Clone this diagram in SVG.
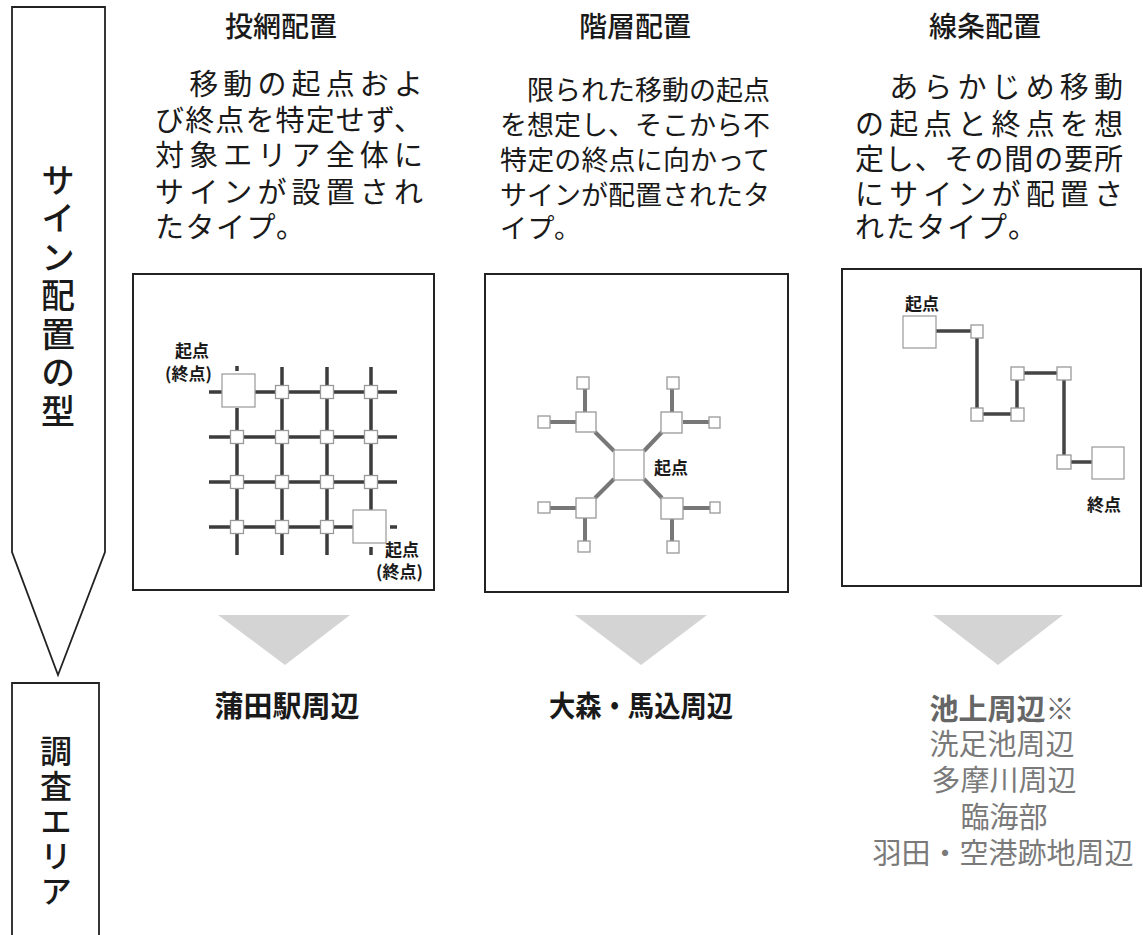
<svg xmlns="http://www.w3.org/2000/svg" width="1143" height="935" viewBox="0 0 1143 935">
<style>
text{font-family:"Noto Sans CJK JP","Noto Sans CJK SC",sans-serif;fill:#1a1a1a}
.hd{font-size:28px;font-weight:500;text-anchor:middle}
.bd{font-size:29px}
.bd2{font-size:27px}
.side{font-weight:500;writing-mode:vertical-rl}
.lbl{font-size:17px;font-weight:700}
.area{font-size:29px;font-weight:700;text-anchor:middle}
.area3{font-size:29px;text-anchor:middle;fill:#7a7a7a}
.panel{fill:#fff;stroke:#222;stroke-width:2}
.tri{fill:#d4d4d4}
.g1{stroke:#3c3c3c;stroke-width:3.5;fill:none}
.g2{stroke:#777;stroke-width:4;fill:none}
.g3{stroke:#444;stroke-width:3.5;fill:none}
.sq{fill:#fff;stroke:#999;stroke-width:1.3}
.big{fill:#fff;stroke:#a0a0a0;stroke-width:1.3}
</style>

<g id="side-arrow">
<path d="M12,7 L105,7 L105,552 L58,675 L12,552 Z" fill="#fff" stroke="#222" stroke-width="1.8"/>
<text class="side" x="58" y="163" style="font-size:34px;letter-spacing:4.5px">サイン配置の型</text>
</g>

<g id="side-area">
<path d="M12,940 L12,683 L99,683 L99,940" fill="#fff" stroke="#222" stroke-width="1.8"/>
<text class="side" x="56" y="735" style="font-size:32px;letter-spacing:3px">調査エリア</text>
</g>

<g id="col1">
<text class="hd" x="281" y="37">投網配置</text>
<text class="bd" x="155" y="95" textLength="268" lengthAdjust="spacing">　移動の起点およ</text>
<text class="bd" x="155" y="131" textLength="268" lengthAdjust="spacing">び終点を特定せず、</text>
<text class="bd" x="155" y="166" textLength="268" lengthAdjust="spacing">対象エリア全体に</text>
<text class="bd" x="155" y="203" textLength="268" lengthAdjust="spacing">サインが設置され</text>
<text class="bd" x="155" y="238" textLength="150" lengthAdjust="spacing">たタイプ。</text>
</g>

<g id="col2">
<text class="hd" x="635" y="37">階層配置</text>
<text class="bd2" x="500" y="100" textLength="270" lengthAdjust="spacing">　限られた移動の起点</text>
<text class="bd2" x="500" y="135" textLength="270" lengthAdjust="spacing">を想定し、そこから不</text>
<text class="bd2" x="500" y="170" textLength="270" lengthAdjust="spacing">特定の終点に向かって</text>
<text class="bd2" x="500" y="205" textLength="270" lengthAdjust="spacing">サインが配置されたタ</text>
<text class="bd2" x="500" y="238" textLength="81" lengthAdjust="spacing">イプ。</text>
</g>

<g id="col3">
<text class="hd" x="985" y="37">線条配置</text>
<text class="bd" x="855" y="98" textLength="268" lengthAdjust="spacing">　あらかじめ移動</text>
<text class="bd" x="855" y="135" textLength="268" lengthAdjust="spacing">の起点と終点を想</text>
<text class="bd" x="855" y="170" textLength="268" lengthAdjust="spacing">定し、その間の要所</text>
<text class="bd" x="855" y="205" textLength="268" lengthAdjust="spacing">にサインが配置さ</text>
<text class="bd" x="855" y="238" textLength="182" lengthAdjust="spacing">れたタイプ。</text>
</g>

<g id="panel1">
<rect class="panel" x="133" y="274" width="301" height="316"/>
<g class="g1">
<path d="M237,366 L237,371 M237,408 L237,555 M282,367 L282,555 M327,367 L327,555 M371,367 L371,510 M371,547 L371,555"/>
<path d="M209,392 L222,392 M255,392 L397,392 M209,437 L397,437 M209,482 L397,482 M209,527 L353,527 M390,527 L397,527"/>
</g>
<rect class="big" x="222" y="374" width="33" height="33"/>
<rect class="big" x="353" y="510" width="33" height="33"/>
<g>
<rect class="sq" x="275.5" y="385.5" width="13" height="13"/>
<rect class="sq" x="320.5" y="385.5" width="13" height="13"/>
<rect class="sq" x="364.5" y="385.5" width="13" height="13"/>
<rect class="sq" x="230.5" y="430.5" width="13" height="13"/>
<rect class="sq" x="275.5" y="430.5" width="13" height="13"/>
<rect class="sq" x="320.5" y="430.5" width="13" height="13"/>
<rect class="sq" x="364.5" y="430.5" width="13" height="13"/>
<rect class="sq" x="230.5" y="475.5" width="13" height="13"/>
<rect class="sq" x="275.5" y="475.5" width="13" height="13"/>
<rect class="sq" x="320.5" y="475.5" width="13" height="13"/>
<rect class="sq" x="364.5" y="475.5" width="13" height="13"/>
<rect class="sq" x="230.5" y="520.5" width="13" height="13"/>
<rect class="sq" x="275.5" y="520.5" width="13" height="13"/>
<rect class="sq" x="320.5" y="520.5" width="13" height="13"/>
</g>
<text class="lbl" x="175" y="357">起点</text>
<text class="lbl" x="165" y="380">(終点)</text>
<text class="lbl" x="385" y="556">起点</text>
<text class="lbl" x="376" y="578">(終点)</text>
</g>

<g id="panel2">
<rect class="panel" x="485" y="274" width="303" height="318"/>
<g class="g2">
<path d="M614,451 L595,432 M644,451 L662,432 M614,479 L595,498 M644,479 L662,498"/>
<path d="M585,389 L585,412 M550,422 L576,422 M672,389 L672,412 M683,422 L709,422 M550,508 L576,508 M585,518 L585,541 M683,508 L710,508 M672,519 L672,541"/>
</g>
<rect class="big" x="614" y="450" width="30" height="30"/>
<rect class="sq" x="576" y="412" width="20" height="20"/>
<rect class="sq" x="661" y="412" width="21" height="21"/>
<rect class="sq" x="576" y="498" width="20" height="20"/>
<rect class="sq" x="661" y="498" width="22" height="21"/>
<rect class="sq" x="577" y="377" width="12" height="12"/>
<rect class="sq" x="538" y="416" width="12" height="12"/>
<rect class="sq" x="667" y="377" width="12" height="12"/>
<rect class="sq" x="709" y="417" width="11" height="11"/>
<rect class="sq" x="538" y="502" width="12" height="11"/>
<rect class="sq" x="578" y="541" width="12" height="11"/>
<rect class="sq" x="710" y="502" width="10" height="11"/>
<rect class="sq" x="667" y="541" width="12" height="12"/>
<text class="lbl" x="654" y="474">起点</text>
</g>

<g id="panel3">
<rect class="panel" x="842" y="269" width="299" height="317"/>
<g class="g3">
<path d="M936,331 L971,331 M977,338 L977,408 M983,414 L1011,414 M1017,408 L1017,380 M1024,373 L1057,373 M1064,380 L1064,455 M1071,462 L1092,462"/>
</g>
<rect class="big" x="903" y="316" width="33" height="32"/>
<rect class="big" x="1092" y="447" width="32" height="32"/>
<rect class="sq" x="971" y="325" width="12" height="13"/>
<rect class="sq" x="971" y="408" width="12" height="13"/>
<rect class="sq" x="1011" y="408" width="13" height="13"/>
<rect class="sq" x="1011" y="367" width="13" height="13"/>
<rect class="sq" x="1057" y="367" width="14" height="13"/>
<rect class="sq" x="1057" y="455" width="14" height="14"/>
<text class="lbl" x="905" y="310">起点</text>
<text class="lbl" x="1087" y="511">終点</text>
</g>

<g id="connectors">
<path class="tri" d="M218,615 L350,615 L285,665 Z"/>
<path class="tri" d="M575,615 L707,615 L641,665 Z"/>
<path class="tri" d="M933,615 L1063,615 L998,665 Z"/>
</g>

<g id="area1"><text class="area" x="287" y="717">蒲田駅周辺</text></g>
<g id="area2"><text class="area" x="641" y="717" textLength="184" lengthAdjust="spacingAndGlyphs">大森・馬込周辺</text></g>
<g id="area3">
<text class="area" x="1002" y="720" style="fill:#666">池上周辺※</text>
<text class="area3" x="1002" y="755">洗足池周辺</text>
<text class="area3" x="1004" y="791">多摩川周辺</text>
<text class="area3" x="1004" y="828">臨海部</text>
<text class="area3" x="1003" y="864">羽田・空港跡地周辺</text>
</g>
</svg>
